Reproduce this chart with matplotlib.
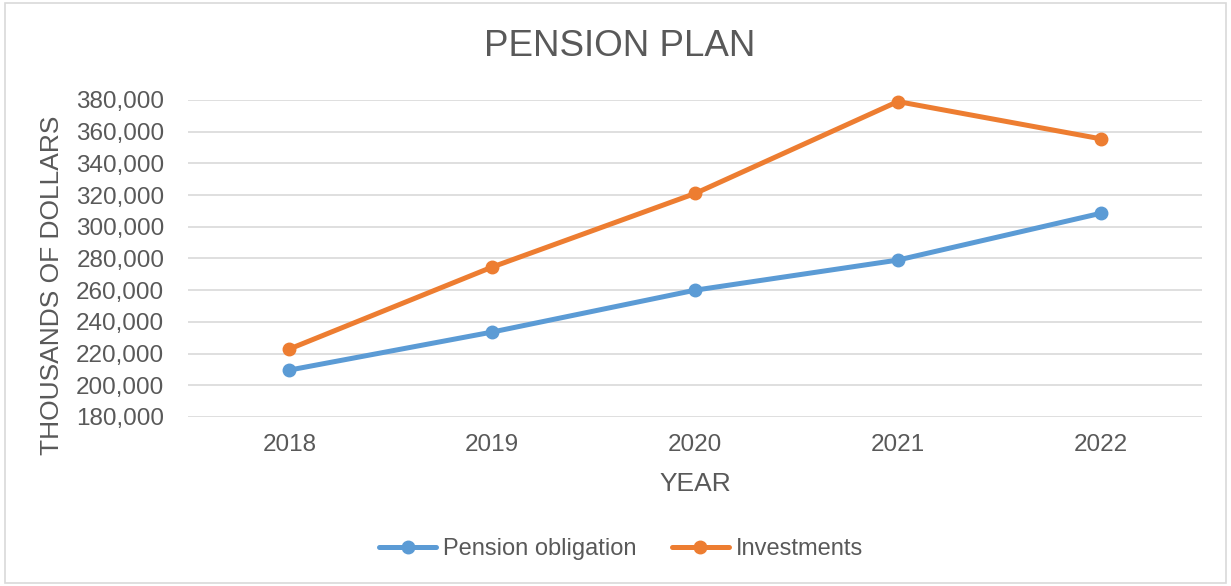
import matplotlib
matplotlib.use("Agg")
import matplotlib.pyplot as plt
from matplotlib.patches import Rectangle
from matplotlib.ticker import FuncFormatter

plt.rcParams['font.family'] = ['Liberation Sans', 'DejaVu Sans']

years = ['2018', '2019', '2020', '2021', '2022']
pension_obligation = [209600, 233600, 260000, 279000, 308500]
investments = [222900, 274600, 321000, 379000, 355500]

txt = '#595959'
fig = plt.figure(figsize=(12.31, 5.86), dpi=100)
ax = fig.add_axes([0.1527, 0.2884, 0.8238, 0.541])

# chart border
fig.patches.append(Rectangle((0.004, 0.005), 0.992, 0.99, transform=fig.transFigure,
                             fill=False, edgecolor='#D9D9D9', lw=1.2))

x = range(len(years))
ax.plot(x, pension_obligation, color='#5B9BD5', lw=3.6, marker='o', ms=9,
        label='Pension obligation', solid_capstyle='round', clip_on=False)
ax.plot(x, investments, color='#ED7D31', lw=3.6, marker='o', ms=9,
        label='Investments', solid_capstyle='round', clip_on=False)

ax.set_xlim(-0.5, 4.5)
ax.set_ylim(180000, 380000)
ax.set_yticks(range(180000, 380001, 20000))
ax.yaxis.set_major_formatter(FuncFormatter(lambda v, p: f'{int(v):,}'))
ax.set_xticks(list(x))
ax.set_xticklabels(years)
ax.grid(axis='y', color='#D9D9D9', lw=1.2)
ax.set_axisbelow(True)
for s in ax.spines.values():
    s.set_visible(False)
ax.tick_params(length=0, labelsize=17.5, labelcolor=txt)
ax.tick_params(axis='y', pad=17)
ax.tick_params(axis='x', pad=12)

fig.text(620 / 1231, 1 - 46 / 586, 'PENSION PLAN', fontsize=26.5, color=txt,
         ha='center', va='center')
ax.set_xlabel('YEAR', fontsize=19, color=txt, labelpad=12)
fig.text(52 / 1231, 1 - 285 / 586, 'THOUSANDS OF DOLLARS', fontsize=19, color=txt,
         rotation=90, ha='center', va='center')

fig.legend(loc='center', bbox_to_anchor=(621 / 1231, 1 - 549 / 586), ncol=2,
           frameon=False, fontsize=17, labelcolor=txt, handlelength=2.4,
           handletextpad=0.3, columnspacing=1.5)

fig.savefig('out.png', dpi=100)
